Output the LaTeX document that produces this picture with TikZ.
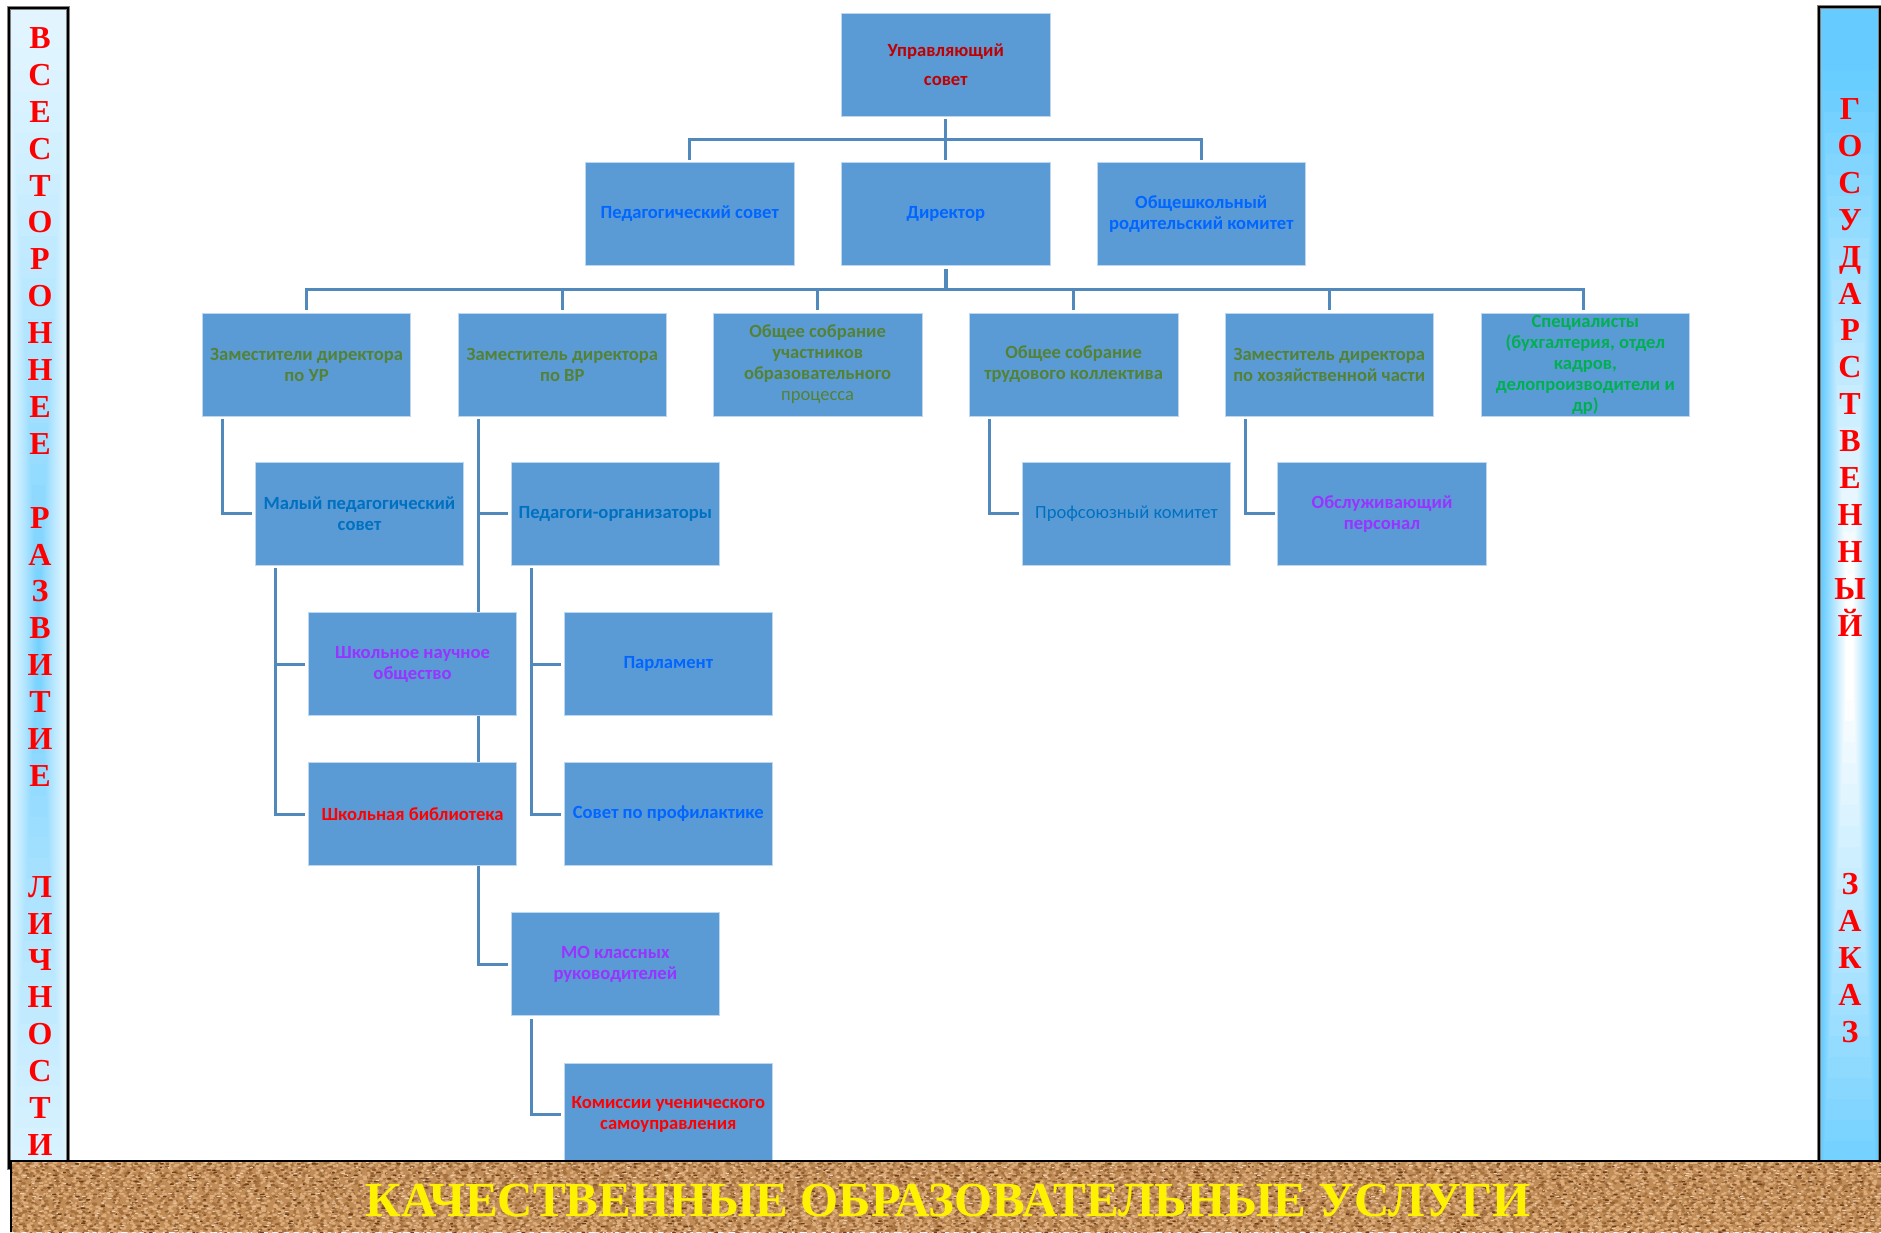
\documentclass[tikz,border=0pt]{standalone}
\usepackage{fontspec}
\setmainfont{Carlito}
\newfontfamily\timesf{Liberation Serif}
\usetikzlibrary{backgrounds,calc}
\definecolor{boxc}{HTML}{5B9BD5}
\definecolor{boxedge}{HTML}{BDD7EE}
\definecolor{linec}{HTML}{5289BD}
\definecolor{tred}{HTML}{C00000}
\definecolor{tblue}{HTML}{0066FF}
\definecolor{tgreen}{HTML}{548235}
\definecolor{tgreenb}{HTML}{00B050}
\definecolor{tsea}{HTML}{0070C0}
\definecolor{tpurple}{HTML}{9933FF}
\definecolor{ledge}{HTML}{E2F5FF}
\definecolor{lmid}{HTML}{66CCFF}
\definecolor{redge}{HTML}{66CCFF}
\definecolor{rmid}{HTML}{FFFFFF}
\definecolor{corkbase}{HTML}{C08C58}
\definecolor{corklight}{HTML}{DDAE7C}
\definecolor{corkmid}{HTML}{A5723F}
\definecolor{corkdark}{HTML}{6A3C18}
\tikzset{
  box/.style={fill=boxc,draw=boxedge,line width=.7pt,minimum width=208.5pt,minimum height=103pt,
    align=center,inner sep=0pt,outer sep=3pt,font=\fontsize{18.6}{21}\selectfont\bfseries},
  conn/.style={draw=linec,line width=3pt},
  panel/.style={draw=black,line width=2.4pt},
  panelhalo/.style={draw=gray,line width=4pt},
  letters/.style={text=red,align=center,inner sep=0pt,font=\fontsize{32}{36.9}\timesf\bfseries}
}
% #1 colour, #2 line width, #3 mean gap, #4 row step
\newcommand{\corkrows}[4]{%
  \foreach \yy in {1160,#4,...,1234}{%
    \pgfmathsetmacro\ya{\yy+1.5*rnd}%
    \pgfmathsetmacro\yb{\yy+1.5*rnd}%
    \pgfmathsetmacro\da{.5+3*rnd}\pgfmathsetmacro\ga{#3*(.5+rnd)}%
    \pgfmathsetmacro\db{.5+3*rnd}\pgfmathsetmacro\gb{#3*(.5+rnd)}%
    \pgfmathsetmacro\dc{.5+3*rnd}\pgfmathsetmacro\gc{#3*(.5+rnd)}%
    \pgfmathsetmacro\dd{.5+3*rnd}\pgfmathsetmacro\gd{#3*(.5+rnd)}%
    \pgfmathsetmacro\ph{40*rnd}%
    \draw[#1,line width=#2,line cap=round,
      dash pattern=on \da pt off \ga pt on \db pt off \gb pt on \dc pt off \gc pt on \dd pt off \gd pt,
      dash phase=\ph pt] (10,\ya) -- (1881,\yb);%
  }%
}
\begin{document}
\begin{tikzpicture}[x=1pt,y=-1pt]
\useasboundingbox (0,0) rectangle (1881,1232);
% side panels
\begin{scope}
  \clip (9,8) rectangle (68,1168);
  \foreach \i in {0,...,29}{
    \pgfmathsetmacro\tt{\i/30}
    \pgfmathsetmacro\pp{95*pow(\tt+.001,1.3)}
    \pgfmathsetmacro\xa{9+29.5*\tt}
    \pgfmathsetmacro\xb{68-29.5*\tt}
    \pgfmathsetmacro\ya{8+622*\tt}
    \pgfmathsetmacro\yb{1252-622*\tt}
    \fill[lmid!\pp!ledge] (\xa,\ya) rectangle (\xb,\yb);
  }
\end{scope}
\begin{scope}
  \clip (1819,7) rectangle (1880,1165);
  \foreach \i in {0,...,29}{
    \pgfmathsetmacro\tt{\i/30}
    \pgfmathsetmacro\pp{max(0,min(100,125*(\tt-.09)))}
    \pgfmathsetmacro\xa{1819+30.5*\tt}
    \pgfmathsetmacro\xb{1880-30.5*\tt}
    \pgfmathsetmacro\ya{7+630*\tt}
    \pgfmathsetmacro\yb{1267-630*\tt}
    \fill[rmid!\pp!redge] (\xa,\ya) rectangle (\xb,\yb);
  }
\end{scope}
\draw[panelhalo] (9,8) rectangle (68,1168);
\draw[panel] (9,8) rectangle (68,1168);
\draw[panelhalo] (1819,7) rectangle (1880,1165);
\draw[panel] (1819,7) rectangle (1880,1165);
\node[letters] (lefttext) at (40,591.5) {В\\С\\Е\\С\\Т\\О\\Р\\О\\Н\\Н\\Е\\Е\\~\\Р\\А\\З\\В\\И\\Т\\И\\Е\\~\\~\\Л\\И\\Ч\\Н\\О\\С\\Т\\И};
\node[letters] (righttext) at (1850,570.5) {Г\\О\\С\\У\\Д\\А\\Р\\С\\Т\\В\\Е\\Н\\Н\\Ы\\Й\\~\\~\\~\\~\\~\\~\\З\\А\\К\\А\\З};
% boxes
\node[box,text=tred,font=\fontsize{18.6}{29}\selectfont\bfseries] (uc) at (945.75,64.5) {Управляющий\\совет};
\node[box,text=tblue] (ped) at (689.75,214) {Педагогический совет};
\node[box,text=tblue] (dir) at (945.75,214) {Директор};
\node[box,text=tblue] (kom) at (1201.25,214) {Общешкольный\\родительский комитет};
\node[box,text=tgreen] (zur) at (306.55,364.5) {Заместители директора\\по УР};
\node[box,text=tgreen] (zvr) at (562.3,364.5) {Заместитель директора\\по ВР};
\node[box,text=tgreen] (obs) at (817.6,364.5) {Общее собрание\\участников\\образовательного\\{\mdseries процесса}};
\node[box,text=tgreen] (trud) at (1073.6,364.5) {Общее собрание\\трудового коллектива};
\node[box,text=tgreen] (hoz) at (1329.3,364.5) {Заместитель директора\\по хозяйственной части};
\node[box,text=tgreenb] (spec) at (1585.3,364.5) {Специалисты\\(бухгалтерия, отдел\\кадров,\\делопроизводители и\\др)};
\node[box,text=tsea] (mal) at (359.5,513.7) {Малый педагогический\\совет};
\node[box,text=tsea] (org) at (615.3,513.7) {Педагоги-организаторы};
\node[box,text=tsea,font=\fontsize{18.6}{21}\selectfont] (prof) at (1126.5,513.7) {Профсоюзный комитет};
\node[box,text=tpurple] (obsl) at (1382,513.7) {Обслуживающий\\персонал};
\node[box,text=tpurple] (sno) at (412.5,664) {Школьное научное\\общество};
\node[box,text=tblue] (parl) at (668.3,664) {Парламент};
\node[box,text=red] (lib) at (412.5,814) {Школьная библиотека};
\node[box,text=tblue] (prev) at (668.3,814) {Совет по профилактике};
\node[box,text=tpurple] (mo) at (615.3,964) {МО классных\\руководителей};
\node[box,text=red] (ks) at (668.3,1114.5) {Комиссии ученического\\самоуправления};
% connectors
\coordinate (bus1) at (945.75,139);
\coordinate (bus2) at (945.75,289);
\coordinate (vmal) at ([xshift=23pt]zur.south west);
\coordinate (vvr) at ([xshift=23pt]zvr.south west);
\coordinate (vmal2) at ([xshift=23pt]mal.south west);
\coordinate (vorg) at ([xshift=23pt]org.south west);
\coordinate (vmo) at ([xshift=23pt]mo.south west);
\coordinate (vtrud) at ([xshift=23pt]trud.south west);
\coordinate (vhoz) at ([xshift=23pt]hoz.south west);
\coordinate (specn) at ([xshift=-2pt]spec.north);
\begin{scope}[on background layer]
  \draw[conn] (uc.south) -- (dir.north);
  \draw[conn] (ped.north) |- (bus1) -| (kom.north);
  \draw[conn,line width=4pt] (dir.south) -- (bus2);
  \draw[conn] (zur.north) |- (bus2) -| (specn);
  \foreach \n in {zvr,obs,trud,hoz}{ \draw[conn] (\n.north) -- (\n.north |- bus2); }
  \draw[conn] (vmal) |- (mal.west);
  \draw[conn] (vvr) |- (mo.west);
  \draw[conn] (vvr |- org.west) -- (org.west);
  \draw[conn] (vmal2) |- (lib.west);
  \draw[conn] (vmal2 |- sno.west) -- (sno.west);
  \draw[conn] (vorg) |- (prev.west);
  \draw[conn] (vorg |- parl.west) -- (parl.west);
  \draw[conn] (vmo) |- (ks.west);
  \draw[conn] (vtrud) |- (prof.west);
  \draw[conn] (vhoz) |- (obsl.west);
\end{scope}
% bottom band
\begin{scope}
  \clip (10,1160) rectangle (1881,1232);
  \fill[corkbase] (10,1160) rectangle (1881,1232);
  \pgfmathsetseed{4242}
  \corkrows{corkmid}{2.8pt}{11}{1162.5}
  \corkrows{corklight}{2.3pt}{10}{1162}
  \corkrows{corkmid!60!corkdark}{1.8pt}{22}{1163}
  \corkrows{corkdark}{1.5pt}{70}{1163}
  \corkrows{corklight!55!white}{1pt}{40}{1162.5}
\end{scope}
\draw[black,line width=2pt] (10.5,1232) -- (10.5,1160.5) -- (1881,1160.5);
\node[text=yellow,inner sep=0pt,font=\fontsize{49}{60}\timesf\bfseries] (band) at (948,1200) {КАЧЕСТВЕННЫЕ ОБРАЗОВАТЕЛЬНЫЕ УСЛУГИ};
\end{tikzpicture}
\end{document}
